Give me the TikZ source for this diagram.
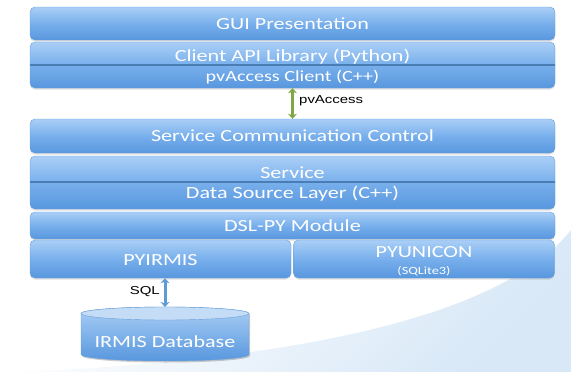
\documentclass[tikz,border=0pt]{standalone}
\usepackage{fontspec}
\setmainfont{Carlito}[FakeStretch=1.3]
\newfontfamily\labelfont{Liberation Sans}[FakeStretch=1.3]
\usetikzlibrary{arrows.meta,shadows}

\definecolor{layerhi}{HTML}{AACFF6}
\definecolor{layermid}{HTML}{78AFEC}
\definecolor{layerlo}{HTML}{5897DE}
\definecolor{layeredge}{HTML}{6A9FD8}
\definecolor{splitline}{HTML}{4B7DB5}
\definecolor{dbtopfill}{HTML}{C4DCF6}
\definecolor{pvgreen}{HTML}{7FA745}
\definecolor{sqlblue}{HTML}{5E9AD6}
\definecolor{swoosh}{HTML}{D8E8F7}

\begin{document}
\begin{tikzpicture}[x=1pt, y=1pt,
    layer/.style={rounded corners=5pt, draw=layeredge, line width=0.4pt,
        top color=layerhi, bottom color=layerlo, middle color=layermid,
        minimum height=#1, inner sep=0pt,
        drop shadow={shadow xshift=0pt, shadow yshift=-1.5pt, opacity=0.25}},
    wide/.style={minimum width=525pt},
    half/.style={minimum width=261pt},
    ltext/.style={text=white, inner sep=0pt, font=\fontsize{17}{20}\selectfont},
    stext/.style={text=white, inner sep=0pt, font=\fontsize{15.5}{18}\selectfont},
    tiny/.style={text=white, inner sep=0pt, font=\fontsize{11}{13}\selectfont},
    lbl/.style={inner sep=0pt, font=\labelfont\fontsize{11.5}{13}\selectfont},
    link/.style={line width=3pt, {Stealth[length=5pt, width=9pt, inset=1.5pt]}-{Stealth[length=5pt, width=9pt, inset=1.5pt]}}
  ]
  \useasboundingbox (0,0) rectangle (571,-372);

  % background sweep
  \shade[left color=white, right color=swoosh, shading angle=45]
    (10,-372) .. controls (280,-362) and (500,-320) .. (571,-230) -- (571,-372) -- cycle;

  % client side
  \node[layer=33pt, wide] (gui) at (292.5,-23.5) {};
  \node[ltext] (guitxt) at (gui.center) {GUI Presentation};
  \node[layer=46pt, wide] (client) at (292.5,-65) {};
  \node[ltext] (apitxt) at (292.5,-57) {Client API Library (Python)};
  \draw[splitline, line width=1.6pt] (client.west |- 0,-65) -- (client.east |- 0,-65);
  \node[stext] (pvctxt) at (292.5,-77) {pvAccess Client (C++)};

  % server side
  \node[layer=34pt, wide] (scc) at (292.5,-136) {};
  \node[ltext] (scctxt) at (scc.center) {Service Communication Control};
  \node[layer=53pt, wide] (service) at (292.5,-182.5) {};
  \node[ltext] (servtxt) at (292.5,-173) {Service};
  \draw[splitline, line width=1.6pt] (service.west |- 0,-182) -- (service.east |- 0,-182);
  \node[ltext] (dsltxt) at (292.5,-193.5) {Data Source Layer (C++)};
  \node[layer=27pt, wide] (dslpy) at (292.5,-225.5) {};
  \node[ltext] (dslpytxt) at (dslpy.center) {DSL-PY Module};
  \node[layer=38pt, half] (pyirmis) at (160.5,-259) {};
  \node[ltext] (pyirmistxt) at (160.5,-260) {PYIRMIS};
  \node[layer=38pt, half] (pyunicon) at (424,-259) {};
  \node[ltext] (pyunicontxt) at (424,-252) {PYUNICON};
  \node[tiny] (sqlitetxt) at (424,-271.5) {(SQLite3)};

  % database
  \fill[black, opacity=0.2] (82,-314) -- (82,-356) arc[start angle=180, end angle=360, x radius=84, y radius=6.5] -- (250,-314) -- cycle;
  \draw[layeredge, line width=0.4pt, top color=layerhi, bottom color=layerlo]
    (81,-313.5) -- (81,-354.5) arc[start angle=180, end angle=360, x radius=84, y radius=6.5]
    -- (249,-313.5) arc[start angle=0, end angle=180, x radius=84, y radius=6.5] -- cycle;
  \draw[layeredge, line width=0.4pt, fill=dbtopfill] (165,-313.5) ellipse[x radius=84, y radius=6.5];
  \coordinate (dbtop) at (165,-307);
  \node[ltext] (db) at (165,-342) {IRMIS Database};

  % links
  \draw[link, pvgreen] (client.south) -- (scc.north);
  \node[lbl, anchor=west] (pvlbl) at (299,-101) {pvAccess};
  \draw[link, sqlblue] (pyirmis.south -| dbtop) -- (dbtop);
  \node[lbl, anchor=east] (sqllbl) at (160,-292) {SQL};
\end{tikzpicture}
\end{document}
